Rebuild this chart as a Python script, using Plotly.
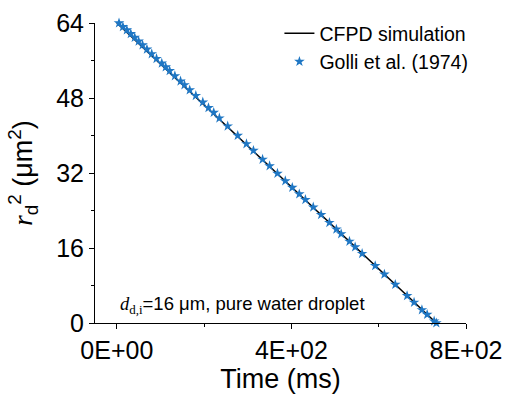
import plotly.graph_objects as go

# CFPD simulation (line)
sim_time = [0, 100, 200, 300, 400, 500, 600, 700, 732]
sim_r2 = [64.0, 55.26, 46.51, 37.77, 29.03, 20.28, 11.54, 2.80, 0.0]

# Golli et al. (1974) (stars)
exp_time = [5, 14, 23, 32, 41, 50, 59, 69, 80, 91, 103, 112, 121, 133, 146, 155, 167, 181, 197,
            210, 222, 235, 254, 277, 297, 313, 334, 350, 368, 386, 402, 418, 432, 450, 468,
            487, 503, 514, 533, 546, 562, 592, 613, 638, 665, 681, 699, 711, 727, 732]
exp_r2 = [64.0, 63.2, 62.5, 61.7, 60.9, 60.1, 59.3, 58.4, 57.4, 56.4, 55.4, 54.6, 53.8, 52.7, 51.6,
          50.8, 49.7, 48.5, 47.1, 45.9, 44.9, 43.7, 42.0, 40.0, 38.2, 36.8, 34.9, 33.5, 31.9, 30.3,
          28.9, 27.5, 26.3, 24.7, 23.1, 21.4, 20.0, 19.0, 17.4, 16.2, 14.8, 12.2, 10.4, 8.2, 5.8,
          4.4, 2.8, 1.8, 0.4, 0.0]

x_ticks = [0, 400, 800]
x_tick_labels = ["0E+00", "4E+02", "8E+02"]
y_ticks = [0, 16, 32, 48, 64]

fig = go.Figure()
fig.add_trace(go.Scatter(x=sim_time, y=sim_r2, mode="lines", name="CFPD simulation",
                         line=dict(color="black", width=1.5)))
fig.add_trace(go.Scatter(x=exp_time, y=exp_r2, mode="markers", name="Golli et al. (1974)",
                         marker=dict(symbol="star", size=8, color="#1f77c4", line=dict(width=0)),
                         cliponaxis=False))

font = "Liberation Sans, Arial, sans-serif"
fig.update_layout(
    width=506, height=394,
    margin=dict(l=95, r=40, t=23, b=71),
    paper_bgcolor="white", plot_bgcolor="white",
    font=dict(family=font, color="black"),
    showlegend=True,
    legend=dict(x=1.02, xanchor="right", y=1.03, yanchor="top", bgcolor="rgba(0,0,0,0)",
                font=dict(size=19.5, family=font), tracegroupgap=0),
    xaxis=dict(range=[-50, 800], tickmode="array", tickvals=x_ticks, ticktext=x_tick_labels,
               automargin=False,
               showline=True, linecolor="black", linewidth=1, ticks="outside", ticklen=5,
               tickcolor="black", showgrid=False, zeroline=False,
               tickfont=dict(size=25), minor=dict(ticks="outside", ticklen=3, dtick=200,
                                                   tickcolor="black", showgrid=False),
               title=dict(text="Time (ms)", font=dict(size=27))),
    yaxis=dict(range=[0, 64], tickmode="array", tickvals=y_ticks,
               automargin=False,
               showline=True, linecolor="black", linewidth=1, ticks="outside", ticklen=5,
               tickcolor="black", showgrid=False, zeroline=False,
               tickfont=dict(size=25), minor=dict(ticks="outside", ticklen=3, dtick=8,
                                                   tickcolor="black", showgrid=False),
               title=dict(text="<span style=\"font-family:Liberation Serif\"><i>r</i></span><sub>d</sub><sup>2</sup> (μm<sup>2</sup>)",
                          font=dict(size=27))),
)
fig.add_annotation(xref="x", yref="y", x=3, y=3.8, xanchor="left", yanchor="middle",
                   text="<span style=\"font-family:Liberation Serif\"><i>d</i><sub>d,i</sub></span>=16 μm, pure water droplet",
                   showarrow=False, font=dict(size=18.5, family=font))
fig.write_html("out.html")
